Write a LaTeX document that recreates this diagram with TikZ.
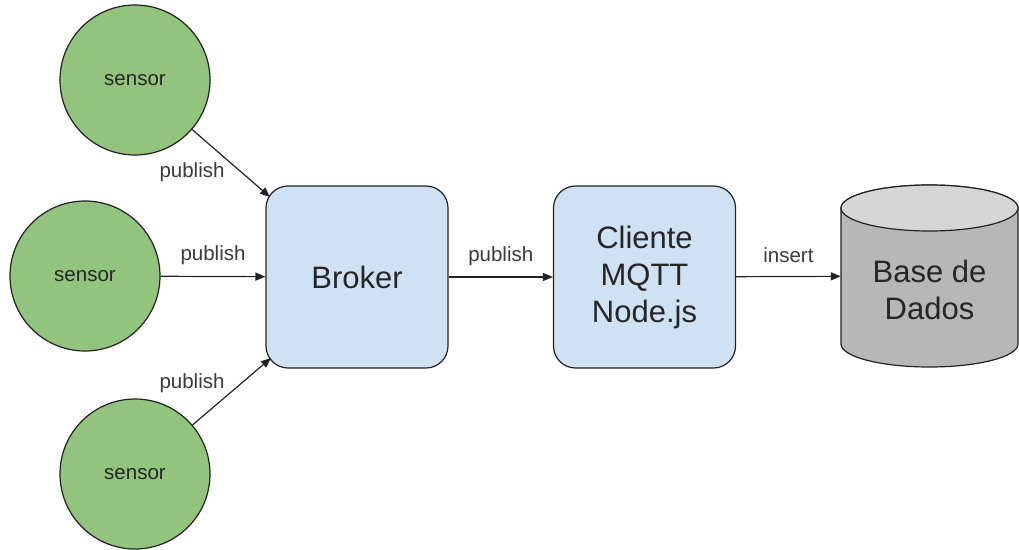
\documentclass[tikz,border=0pt]{standalone}
\usepackage{fontspec}
\setmainfont{Liberation Sans}
\usetikzlibrary{arrows.meta}
\definecolor{sgreen}{HTML}{93C47D}
\definecolor{sblue}{HTML}{CFE2F3}
\definecolor{dbbody}{HTML}{B7B7B7}
\definecolor{dbtop}{HTML}{D6D6D6}
\definecolor{edge}{HTML}{222222}
\definecolor{lbltxt}{HTML}{3A3A3A}
\begin{document}
\begin{tikzpicture}[x=1pt,y=1pt,
  sensornode/.style={circle, draw=edge, line width=1.2pt, fill=sgreen, minimum size=150pt, inner sep=0pt,
    font=\fontsize{20.5}{24}\selectfont, text=black!85},
  boxnode/.style={rectangle, rounded corners=22pt, draw=edge, line width=1.2pt, fill=sblue,
    minimum width=182pt, minimum height=182pt, inner sep=0pt, align=center,
    font=\fontsize{31}{37}\selectfont, text=black!85},
  lbl/.style={font=\fontsize{20.5}{24}\selectfont, text=lbltxt, inner sep=0pt},
  arr/.style={draw=edge, line width=1.2pt, -{Triangle[length=10pt,width=8pt]}}
]
\useasboundingbox (0,0) rectangle (1019,-549);

\node[sensornode] (s1) at (135,-80) {sensor};
\node[sensornode] (s2) at (85,-276) {sensor};
\node[sensornode] (s3) at (135,-474) {sensor};

\node[boxnode] (broker) at (357,-277) {Broker};
\node[boxnode] (client) at (644.5,-277) {Cliente\\MQTT\\Node.js};

% database cylinder
\node[minimum width=177pt, minimum height=182pt, inner sep=0pt] (db) at (929.5,-276) {};
\draw[draw=edge, line width=1.2pt, fill=dbbody]
  (841,-344) arc[start angle=180, end angle=360, x radius=88.5pt, y radius=23pt]
  -- (1018,-208) arc[start angle=0, end angle=180, x radius=88.5pt, y radius=23pt] -- cycle;
\draw[draw=edge, line width=1.2pt, fill=dbtop] (929.5,-208) ellipse[x radius=88.5pt, y radius=23pt];
\node[align=center, font=\fontsize{31}{37}\selectfont, text=black!85] (dbtext) at (929.5,-290) {Base de\\Dados};

\coordinate (bnw) at (270,-197);
\coordinate (bsw) at (271,-358);

\draw[arr] (s1) -- (bnw);
\draw[arr] (s2) -- (broker) node[midway, yshift=21pt, lbl] (l2) {publish};
\draw[arr] (s3) -- (bsw);
\draw[arr] (broker) -- (client) node[midway, yshift=21pt, lbl] (l4) {publish};
\draw[arr] (client) -- (db) node[midway, yshift=21pt, lbl] (l5) {insert};

\node[lbl] (l1) at (192,-172) {publish};
\node[lbl] (l3) at (192,-383) {publish};
\end{tikzpicture}
\end{document}
